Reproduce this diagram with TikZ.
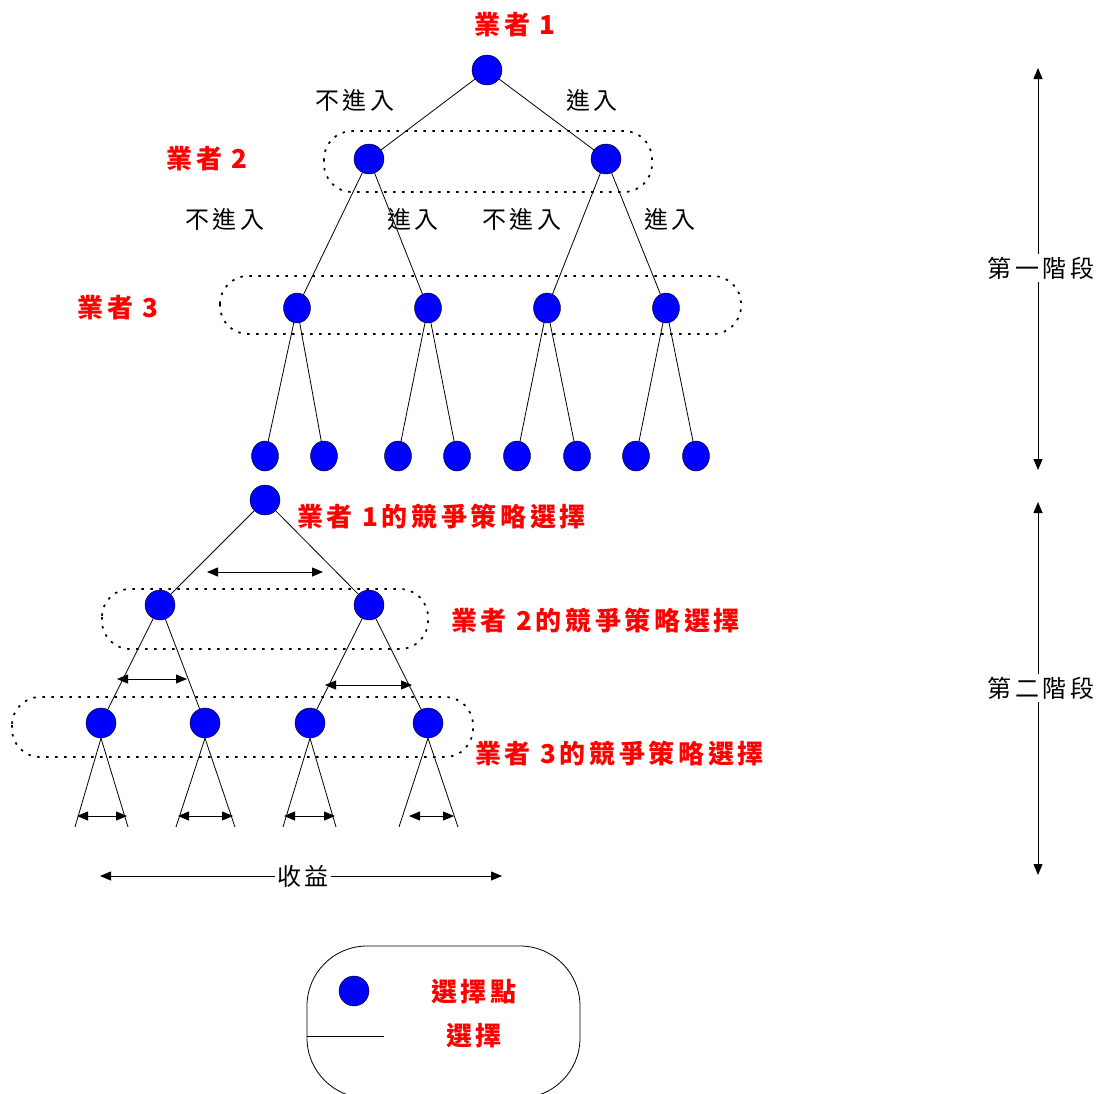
\documentclass[tikz,border=0pt]{standalone}
\usepackage{fontspec}
\newfontfamily\cjk[LetterSpace=16]{Noto Sans CJK TC}
\newfontfamily\cjkred[LetterSpace=14]{Noto Sans CJK TC}
\usetikzlibrary{arrows.meta}
\usetikzlibrary{shapes.geometric}
\usetikzlibrary{positioning}

\tikzset{
  choice/.style={circle,draw=black,fill=blue,minimum size=30pt,inner sep=0pt},
  choice narrow/.style={ellipse,draw=black,fill=blue,minimum width=27pt,minimum height=30pt,inner sep=0pt},
  firm/.style={text=red,font=\cjkred\bfseries\fontsize{26}{28}\selectfont,inner sep=0pt},
  move/.style={font=\cjk\fontsize{24}{26}\selectfont,inner sep=0pt},
  infoset/.style={draw=black,line width=1.7pt,dash pattern=on 2.5pt off 6.5pt,rounded corners=28pt},
  branch/.style={line width=0.8pt},
  span/.style={{Triangle[length=11pt,width=9pt]}-{Triangle[length=11pt,width=9pt]},line width=0.8pt},
  tip/.style={-{Triangle[length=11pt,width=9pt]},line width=0.8pt},
}

\begin{document}
\begin{tikzpicture}[x=1pt,y=-1pt]
\useasboundingbox (0,0) rectangle (1103,1093);

%% first stage: the entry game
% information sets
\draw[infoset] (324,131) rectangle (652,192);
\draw[infoset] (220,276) rectangle (741,334);

% firm 1
\node[choice] (r) at (487,70) {};
% firm 2
\node[choice] (a) at (369,159) {};
\node[choice] (b) at (606,159) {};
% firm 3
\node[choice narrow] (aa) at (297,308) {};
\node[choice narrow] (ab) at (428,308) {};
\node[choice narrow] (ba) at (547,308) {};
\node[choice narrow] (bb) at (666,308) {};
% end points
\node[choice narrow] (aaa) at (265,456) {};
\node[choice narrow] (aab) at (324,456) {};
\node[choice narrow] (aba) at (398,456) {};
\node[choice narrow] (abb) at (457,456) {};
\node[choice narrow] (baa) at (517,456) {};
\node[choice narrow] (bab) at (577,456) {};
\node[choice narrow] (bba) at (636,456) {};
\node[choice narrow] (bbb) at (696,456) {};

\draw[branch] (r) -- (a);
\draw[branch] (r) -- (b);
\draw[branch] (a) -- (aa);
\draw[branch] (a) -- (ab);
\draw[branch] (b) -- (ba);
\draw[branch] (b) -- (bb);
\draw[branch] (aa) -- (aaa);
\draw[branch] (aa) -- (aab);
\draw[branch] (ab) -- (aba);
\draw[branch] (ab) -- (abb);
\draw[branch] (ba) -- (baa);
\draw[branch] (ba) -- (bab);
\draw[branch] (bb) -- (bba);
\draw[branch] (bb) -- (bbb);

% labels
\node[firm] (f1) at (515,25) {業者 1};
\node[firm] (f2) at (207,159) {業者 2};
\node[firm] (f3) at (118,308) {業者 3};
\node[move] (m1) at (355,100) {不進入};
\node[move] (m2) at (592,100) {進入};
\node[move] (m3) at (225,219) {不進入};
\node[move] (m4) at (413,219) {進入};
\node[move] (m5) at (522,219) {不進入};
\node[move] (m6) at (670,219) {進入};

%% second stage: strategy choice
\draw[infoset] (102,589) rectangle (428,649);
\draw[infoset] (12,697) rectangle (473,757);

\node[choice] (s) at (265,500) {};
\node[choice] (sa) at (160,605) {};
\node[choice] (sb) at (369,605) {};
\node[choice] (saa) at (101,723) {};
\node[choice] (sab) at (205,723) {};
\node[choice] (sba) at (310,723) {};
\node[choice] (sbb) at (428,723) {};

\coordinate (e1) at (75,827);
\coordinate (e2) at (128,827);
\coordinate (e3) at (176,827);
\coordinate (e4) at (235,827);
\coordinate (e5) at (283,827);
\coordinate (e6) at (336,827);
\coordinate (e7) at (399,827);
\coordinate (e8) at (458,827);

\draw[branch] (s) -- (sa);
\draw[branch] (s) -- (sb);
\draw[branch] (sa) -- (saa);
\draw[branch] (sa) -- (sab);
\draw[branch] (sb) -- (sba);
\draw[branch] (sb) -- (sbb);
\draw[branch] (saa.south) -- (e1);
\draw[branch] (saa.south) -- (e2);
\draw[branch] (sab.south) -- (e3);
\draw[branch] (sab.south) -- (e4);
\draw[branch] (sba.south) -- (e5);
\draw[branch] (sba.south) -- (e6);
\draw[branch] (sbb.south) -- (e7);
\draw[branch] (sbb.south) -- (e8);

% continuous strategy ranges
\coordinate (c1l) at (207,572);  \coordinate (c1r) at (323,572);
\coordinate (c2l) at (117,679);  \coordinate (c2r) at (187,679);
\coordinate (c3l) at (325,685);  \coordinate (c3r) at (412,685);
\coordinate (d1l) at (77,816);   \coordinate (d1r) at (127,816);
\coordinate (d2l) at (178,816);  \coordinate (d2r) at (233,816);
\coordinate (d3l) at (284,816);  \coordinate (d3r) at (335,816);
\coordinate (d4l) at (409,816);  \coordinate (d4r) at (454,816);
\draw[span] (c1l) -- (c1r);
\draw[span] (c2l) -- (c2r);
\draw[span] (c3l) -- (c3r);
\draw[span] (d1l) -- (d1r);
\draw[span] (d2l) -- (d2r);
\draw[span] (d3l) -- (d3r);
\draw[span] (d4l) -- (d4r);

% payoff
\node[move,fill=white,inner sep=2pt] (pay) at (303,876) {收益};
\coordinate (payl) at (100,876);
\coordinate (payr) at (502,876);
\draw[tip] (pay) -- (payl);
\draw[tip] (pay) -- (payr);

\node[firm,anchor=west] (g1) at (297,517) {業者 1的競爭策略選擇};
\node[firm,anchor=west] (g2) at (451,621) {業者 2的競爭策略選擇};
\node[firm,anchor=west] (g3) at (475,754) {業者 3的競爭策略選擇};

%% stages
\node[move,fill=white,inner sep=3pt] (st1) at (1041,268) {第一階段};
\node[move,fill=white,inner sep=3pt] (st2) at (1041,688) {第二階段};
\coordinate (st1t) at (1038,68);
\coordinate (st1b) at (1038,470);
\coordinate (st2t) at (1038,502);
\coordinate (st2b) at (1038,875);
\draw[tip] (st1t |- st1.north) -- (st1t);
\draw[tip] (st1b |- st1.south) -- (st1b);
\draw[tip] (st2t |- st2.north) -- (st2t);
\draw[tip] (st2b |- st2.south) -- (st2b);

%% legend
\draw[line width=0.8pt,rounded corners=60pt] (307,946) rectangle (580,1098);
\node[choice] (key) at (354,991) {};
\coordinate (keyl) at (307,1036);
\coordinate (keyr) at (384,1036);
\draw[branch] (keyl) -- (keyr);
\node[firm] (k1) at (474,992) {選擇點};
\node[firm] (k2) at (474,1036) {選擇};

\end{tikzpicture}
\end{document}
